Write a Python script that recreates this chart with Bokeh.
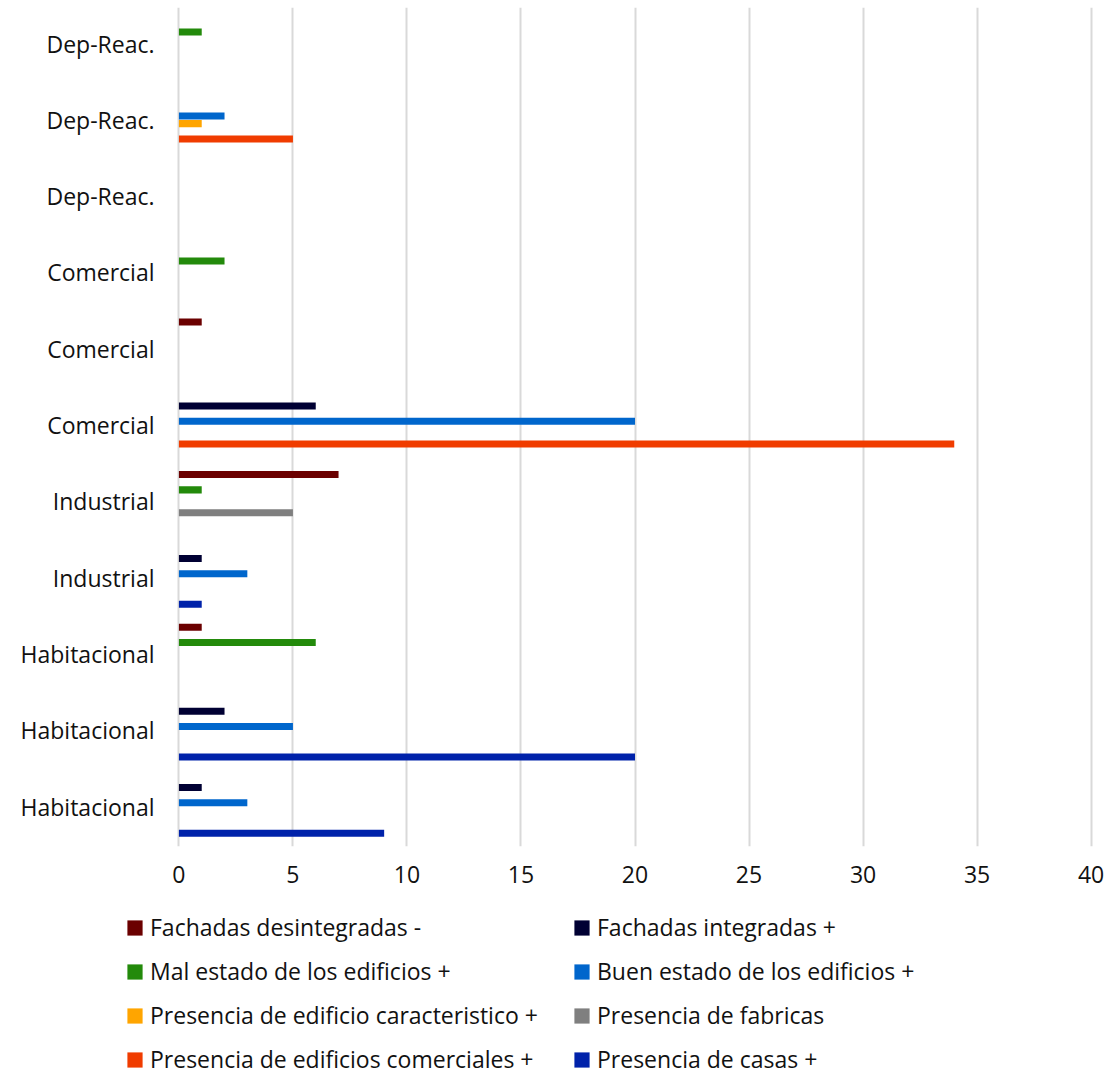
from bokeh.plotting import figure
from bokeh.layouts import column, row
from bokeh.models import (ColumnDataSource, Range1d, FixedTicker, Legend, LegendItem)
from bokeh.embed import file_html
from bokeh.resources import INLINE

# categories listed bottom -> top
categories = ["Habitacional", "Habitacional", "Habitacional", "Industrial", "Industrial",
              "Comercial", "Comercial", "Comercial", "Dep-Reac.", "Dep-Reac.", "Dep-Reac."]

series_names = [
    "Fachadas desintegradas -",
    "Fachadas integradas +",
    "Mal estado de los edificios +",
    "Buen estado de los edificios +",
    "Presencia de edificio caracteristico +",
    "Presencia de fabricas",
    "Presencia de edificios comerciales +",
    "Presencia de casas +",
]

fachadas_desintegradas = [0, 0, 1, 0, 7, 0, 1, 0, 0, 0, 0]
fachadas_integradas = [1, 2, 0, 1, 0, 6, 0, 0, 0, 0, 0]
mal_estado = [0, 0, 6, 0, 1, 0, 0, 2, 0, 0, 1]
buen_estado = [3, 5, 0, 3, 0, 20, 0, 0, 0, 2, 0]
edificio_caracteristico = [0, 0, 0, 0, 0, 0, 0, 0, 0, 1, 0]
fabricas = [0, 0, 0, 0, 5, 0, 0, 0, 0, 0, 0]
edificios_comerciales = [0, 0, 0, 0, 0, 34, 0, 0, 0, 5, 0]
casas = [9, 20, 0, 1, 0, 0, 0, 0, 0, 0, 0]

series_values = [fachadas_desintegradas, fachadas_integradas, mal_estado, buen_estado,
                 edificio_caracteristico, fabricas, edificios_comerciales, casas]

colors = ["#6B0000", "#000033", "#238A0B", "#0066CC", "#FFA500", "#7F7F7F", "#F03C00", "#0022AA"]

x_ticks = [0, 5, 10, 15, 20, 25, 30, 35, 40]

FONT = "Open Sans"
AXIS_FS = "23px"
LEG_FS = "23px"
TEXT_COLOR = "#111111"

W = 1104
P_H = 896
L_H = 180
LEFT = 175

p = figure(width=W, height=P_H, output_backend="svg", toolbar_location=None,
           x_range=Range1d(-0.15, 40.15), y_range=Range1d(-0.524, 10.472),
           min_border_left=LEFT, min_border_right=10, min_border_top=7,
           min_border_bottom=50)
p.outline_line_color = None

slot = 0.1
for s, (name, vals, col) in enumerate(zip(series_names, series_values, colors)):
    ys = [i + (3.5 - s) * slot for i in range(len(categories))]
    src = ColumnDataSource(dict(y=ys, v=vals))
    p.hbar(y="y", left=0, right="v", height=0.092, source=src,
           fill_color=col, line_color=None)

# axes
p.xaxis.ticker = FixedTicker(ticks=x_ticks)
p.yaxis.ticker = FixedTicker(ticks=list(range(len(categories))))
p.yaxis.major_label_overrides = {i: c for i, c in enumerate(categories)}
for ax in (p.xaxis[0], p.yaxis[0]):
    ax.axis_line_color = None
    ax.major_tick_line_color = None
    ax.minor_tick_line_color = None
    ax.major_label_text_font = FONT
    ax.major_label_text_font_size = AXIS_FS
    ax.major_label_text_color = TEXT_COLOR
p.xaxis.major_label_standoff = 13
p.yaxis.major_label_standoff = 15

p.ygrid.grid_line_color = None
p.xgrid.grid_line_color = "#D9D9D9"
p.xgrid.grid_line_width = 2

# legend area (separate strip below the chart)
q = figure(width=W, height=L_H, output_backend="svg", toolbar_location=None,
           x_range=Range1d(0, 1), y_range=Range1d(0, 1),
           x_axis_type=None, y_axis_type=None,
           min_border_left=0, min_border_right=0, min_border_top=0, min_border_bottom=0)
q.outline_line_color = None
q.xgrid.grid_line_color = None
q.ygrid.grid_line_color = None

items = []
for name, col in zip(series_names, colors):
    r = q.hbar(y=[0.5], left=[0], right=[0], height=0, fill_color=col, line_color=None)
    items.append(LegendItem(label=name, renderers=[r]))


def make_legend(its, vx):
    lg = Legend(items=its, location=(vx, 1))
    lg.label_text_font = FONT
    lg.label_text_font_size = LEG_FS
    lg.label_text_color = TEXT_COLOR
    lg.glyph_width = 19
    lg.glyph_height = 19
    lg.label_standoff = 6
    lg.label_height = 31
    lg.spacing = 12
    lg.padding = 0
    lg.margin = 0
    lg.border_line_color = None
    lg.background_fill_alpha = 0
    return lg


q.add_layout(make_legend(items[0::2], 125), "center")
q.add_layout(make_legend(items[1::2], 572), "center")

# nest the legend strip in a row so its frame is not aligned with the chart frame
layout = column(p, row(q, spacing=0), spacing=0)
open("out.html", "w").write(file_html(layout, INLINE))
